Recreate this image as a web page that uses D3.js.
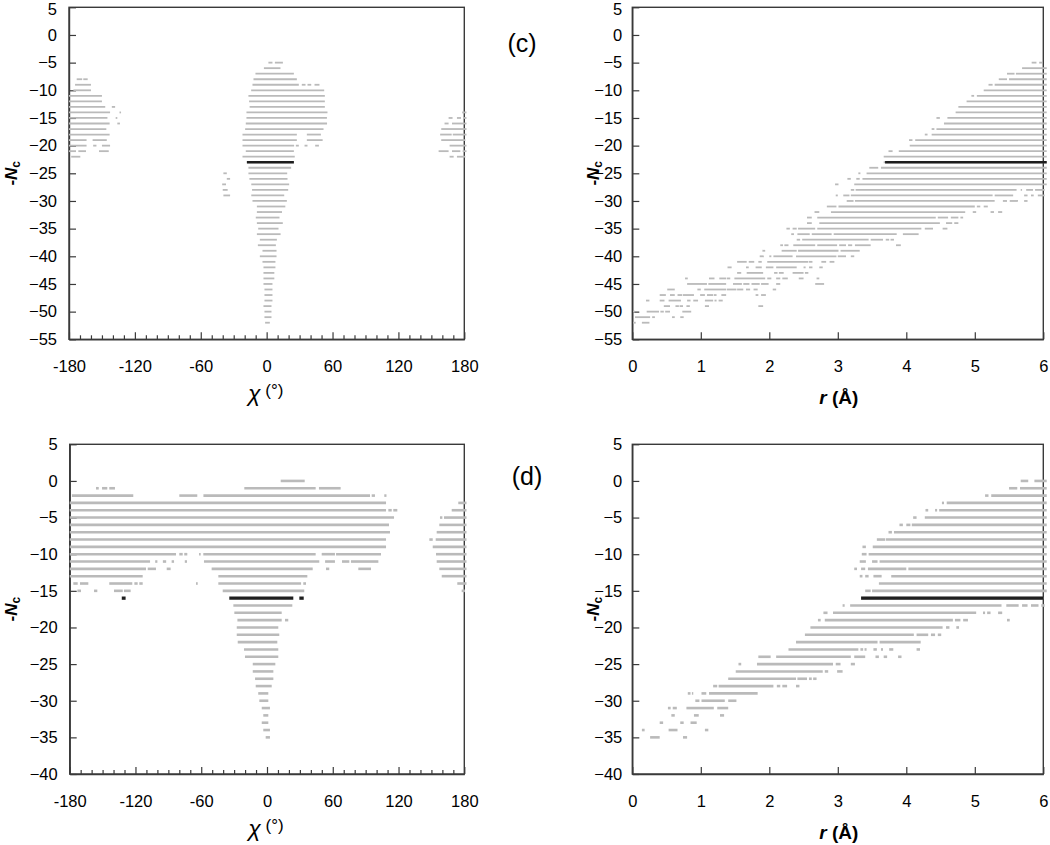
<!DOCTYPE html>
<html><head><meta charset="utf-8">
<script src="https://cdn.jsdelivr.net/npm/d3@7"></script>
<style>
body{margin:0;background:#fff}
svg{display:block}
text{font-family:Arial,"Liberation Sans",sans-serif}
</style>
</head><body>
<svg id="chart" width="1050" height="845"></svg>
<script>
// ---------- tick labels ----------
const chiTickLabels = [-180, -120, -60, 0, 60, 120, 180];
const rTickLabels = [0, 1, 2, 3, 4, 5, 6];
const cNcTicks = [5, 0, -5, -10, -15, -20, -25, -30, -35, -40, -45, -50, -55];
const dNcTicks = [5, 0, -5, -10, -15, -20, -25, -30, -35, -40];

// ---------- panel (c): -Nc vs chi, [level, [[from,to],...]] ----------
const cChiGray = [
  [-5, [[1.6,5.3],[7.5,14.8]]],
  [-6, [[-2.5,12.6]]],
  [-7, [[-10.2,24.8]]],
  [-8, [[-173,-168],[-167,-163],[-12,27.5]]],
  [-9, [[-174.5,-160],[-12.9,29.3],[32,35.4],[37.2,40.6],[43.6,48.1]]],
  [-10, [[-176,-160],[-14.1,52.4]]],
  [-11, [[-180,-150],[-16.6,53]]],
  [-12, [[-180,-150],[-16,53]]],
  [-13, [[-180,-147],[-141,-138],[-15.5,53]]],
  [-14, [[-180,-142.6],[-134,-132.6],[-18.4,55.4],[178,182]]],
  [-15, [[-180,-145],[-137.5,-136],[-18.4,54.9],[165.7,169.3],[173.3,177],[179,182]]],
  [-16, [[-180,-143],[-136,-133.6],[-19,55],[162,165.7],[168.8,182]]],
  [-17, [[-180,-146],[-19.6,51.8],[159,182]]],
  [-18, [[-180,-143],[-22,27.5],[36.6,49.4],[158,168.5],[169.5,182]]],
  [-19, [[-180,-164],[-158.5,-145.6],[-22,27.5],[36.6,51],[159,181]]],
  [-20, [[-180,-164],[-158,-155],[-150,-142.6],[-22,25],[26.6,29.3],[34.5,37.2],[44.2,47.6],[166.6,182]]],
  [-21, [[-180,-173.6],[-171.5,-164.5],[-152.7,-143.8],[-19,24.8],[156.6,165.7],[168.8,176.4],[178.5,182]]],
  [-22, [[-178,-169.7],[-22,25.6],[166.6,170.3],[173.3,181]]],
  [-23, [[-18,24.8]]],
  [-24, [[-16.6,22.3]]],
  [-25, [[-39.4,-36.3],[-16.6,18.7]]],
  [-26, [[-36.3,-33.3],[-15.7,19]]],
  [-27, [[-40.5,-37],[-14,20.5]]],
  [-28, [[-40,-35.5],[-13.3,19.6]]],
  [-29, [[-39.4,-33.3],[-14,16]]],
  [-30, [[-12.9,18.4]]],
  [-31, [[-8.9,17]]],
  [-32, [[-8.9,14]]],
  [-33, [[-9.9,11.7]]],
  [-34, [[-8.9,14.7]]],
  [-35, [[-7.7,10.8]]],
  [-36, [[-8.9,12.7]]],
  [-37, [[-6.2,9.3]]],
  [-38, [[-8,8.4]]],
  [-39, [[-3.8,9]]],
  [-40, [[-6.2,9]]],
  [-41, [[-3.8,8]]],
  [-42, [[-2.9,8]]],
  [-43, [[-2.9,7]]],
  [-44, [[-2.9,7]]],
  [-45, [[-2.9,5.3]]],
  [-46, [[-2,5.3]]],
  [-47, [[-2,5.3]]],
  [-48, [[-2,5.3]]],
  [-49, [[-2.9,4.4]]],
  [-50, [[-2,4.4]]],
  [-51, [[-2,4.4]]],
  [-52, [[-1.4,2.9]]]
];
const cChiBlack = [[-23, [[-18,24.8]]]];

// ---------- panel (c): -Nc vs r ----------
const cRGray = [
  [-5, [[5.83,5.90],[5.94,5.98]]],
  [-6, [[5.69,6.05]]],
  [-7, [[5.47,5.58],[5.60,6.05]]],
  [-8, [[5.35,5.47],[5.50,6.05]]],
  [-9, [[5.20,5.26],[5.29,6.05]]],
  [-10, [[5.13,6.05]]],
  [-11, [[4.95,4.99],[5.03,6.05]]],
  [-12, [[4.88,6.05]]],
  [-13, [[4.76,6.05]]],
  [-14, [[4.72,6.05]]],
  [-15, [[4.44,4.49],[4.60,6.05]]],
  [-16, [[4.55,6.05]]],
  [-17, [[4.37,4.41],[4.44,6.05]]],
  [-18, [[4.27,4.31],[4.37,6.05]]],
  [-19, [[4.04,4.09],[4.13,6.05]]],
  [-20, [[4.05,6.05]]],
  [-21, [[3.74,3.80],[3.89,6.05]]],
  [-22, [[3.67,6.05]]],
  [-23, [[3.67,6.05]]],
  [-24, [[3.46,3.59],[3.63,6.05]]],
  [-25, [[3.30,3.33],[3.42,6.05]]],
  [-26, [[3.14,3.19],[3.27,3.32],[3.36,6.05]]],
  [-27, [[2.96,3.01],[3.24,6.05]]],
  [-28, [[3.19,3.24],[3.26,5.61],[5.67,5.69],[5.75,5.85],[5.88,6.02]]],
  [-29, [[2.97,3.0],[3.08,3.17],[3.19,5.26],[5.29,5.56],[5.72,5.77],[5.82,5.86],[5.92,6.02]]],
  [-30, [[3.13,3.23],[3.25,5.29],[5.41,5.47],[5.51,5.63],[5.72,5.77]]],
  [-31, [[2.84,2.98],[3.01,5.00],[5.03,5.08],[5.13,5.19]]],
  [-32, [[2.66,2.73],[2.90,4.86],[4.97,5.02],[5.23,5.28],[5.34,5.40]]],
  [-33, [[2.55,2.62],[2.70,4.43],[4.46,4.61],[4.65,4.76],[4.79,4.83]]],
  [-34, [[2.55,2.62],[2.73,4.49],[4.58,4.67],[4.70,4.76]]],
  [-35, [[2.25,2.30],[2.34,2.40],[2.42,2.67],[2.70,4.22],[4.27,4.39],[4.53,4.60]]],
  [-36, [[2.32,2.36],[2.41,2.59],[2.62,2.91],[2.94,3.86],[3.95,4.18]]],
  [-37, [[2.40,2.45],[2.48,3.45],[3.48,3.66],[3.70,3.75],[3.77,3.82]]],
  [-38, [[2.16,2.20],[2.22,2.28],[2.35,2.67],[2.70,2.99],[3.02,3.12],[3.15,3.21],[3.25,3.48],[3.85,3.92]]],
  [-39, [[1.90,1.94],[2.18,2.40],[2.42,3.01],[3.04,3.32]]],
  [-40, [[1.86,1.92],[2.00,2.03],[2.06,2.34],[2.39,2.98],[3.00,3.12],[3.19,3.24]]],
  [-41, [[1.53,1.67],[1.70,1.78],[1.84,1.89],[1.97,2.57],[2.58,2.63],[2.76,2.83],[2.88,2.95]]],
  [-42, [[1.39,1.45],[1.66,1.70],[1.80,1.89],[1.95,2.06],[2.10,2.40],[2.50,2.53],[2.58,2.63],[2.73,2.78]]],
  [-43, [[1.53,1.59],[1.67,1.91],[2.07,2.12],[2.14,2.21],[2.34,2.50],[2.52,2.57]]],
  [-44, [[0.77,0.81],[1.12,1.20],[1.27,1.37],[1.38,1.43],[1.49,1.94],[1.97,2.03],[2.10,2.16],[2.19,2.27],[2.43,2.50],[2.69,2.73]]],
  [-45, [[0.80,1.09],[1.11,1.37],[1.47,1.60],[1.62,1.71],[1.74,1.86],[1.88,1.99],[2.10,2.16],[2.67,2.80]]],
  [-46, [[0.51,0.62],[0.95,1.0],[1.05,1.37],[1.38,1.52],[1.53,1.62],[1.66,1.72],[1.77,1.83],[2.05,2.10]]],
  [-47, [[0.40,0.49],[0.55,0.62],[0.66,0.73],[0.74,0.90],[0.99,1.06],[1.09,1.18],[1.19,1.23],[1.30,1.37],[1.80,1.84],[1.88,1.95]]],
  [-48, [[0.20,0.25],[0.40,0.47],[0.53,0.71],[0.80,0.85],[0.89,0.96],[1.06,1.18],[1.20,1.23],[1.26,1.32]]],
  [-49, [[0.46,0.55],[0.63,0.68],[0.69,0.74],[0.79,0.84],[1.06,1.12],[1.84,1.91]]],
  [-50, [[0.01,0.04],[0.21,0.39],[0.41,0.46],[0.48,0.55],[0.73,0.86]]],
  [-51, [[0.04,0.26],[0.29,0.33],[0.58,0.62],[0.70,0.75]]],
  [-52, [[0.01,0.05],[0.14,0.25]]]
];
const cRBlack = [[-23, [[3.69,6.05]]]];

// ---------- panel (d): -Nc vs chi ----------
const dChiGray = [
  [0, [[12.5,34.4]]],
  [-1, [[-156,-153.5],[-150.5,-145.7],[-143.9,-138.7],[-20.7,44.4],[47.4,67.2]]],
  [-2, [[-178,-122],[-80,-63.6],[-58,94],[95.5,98.5],[107,109]]],
  [-3, [[-180,108.6],[174.5,182]]],
  [-4, [[-180,108.6],[110.7,113.8],[115.2,118.9],[168.5,182]]],
  [-5, [[-180,115.9],[157.8,160],[161.5,182]]],
  [-6, [[-180,111.3],[157.2,182]]],
  [-7, [[-180,112.2],[154.8,182]]],
  [-8, [[-180,108.6],[148.1,151.2],[153.9,182]]],
  [-9, [[-180,108.6],[151.2,182]]],
  [-10, [[-180,-83],[-80,-76.9],[-75.5,-72.7],[-62,-60.5],[-58.1,44.4],[49.9,62],[63,104],[154.2,182]]],
  [-11, [[-180,-106.7],[-102,-100],[-95,-92],[-87,-84.8],[-75,-73],[-57.5,47.7],[53,62],[68.4,75.1],[76.6,101.6],[154.8,182]]],
  [-12, [[-180,-110.4],[-108.8,-101.3],[-91.5,-87.9],[-50.5,41.7],[53.8,56.8],[83.3,94.9],[157.2,182]]],
  [-13, [[-180,-113.4],[-44.4,36.8],[159.4,182]]],
  [-14, [[-176.7,-172.7],[-170.6,-163],[-143.9,-122.9],[-121,-118],[-116.5,-113.4],[-64.8,-63.2],[-44.4,31.1],[33.1,35.6],[173.6,182]]],
  [-15, [[-173,-169.7],[-157.8,-154.8],[-139.6,-131.6],[-130.5,-124.4],[-40.4,34],[177.6,180.6]]],
  [-17, [[-30.7,23.1]]],
  [-18, [[-29.8,13.4]]],
  [-19, [[-27,13.4],[16.4,19.4]]],
  [-20, [[-27.6,10.3]]],
  [-21, [[-27.6,11.2]]],
  [-22, [[-26.7,9.4]]],
  [-23, [[-21,10.3]]],
  [-24, [[-20.1,10.3]]],
  [-25, [[-13,7.6]]],
  [-26, [[-13,5.8]]],
  [-27, [[-10.9,5.8]]],
  [-28, [[-10.3,4.3]]],
  [-29, [[-8,1.2]]],
  [-30, [[-7,1.2]]],
  [-31, [[-4.8,2.7]]],
  [-32, [[-3.4,1.2]]],
  [-33, [[-4.8,1.2]]],
  [-34, [[-3.4,2.7]]],
  [-35, [[-1.2,2.7]]]
];
const dChiBlack = [[-16, [[-132.5,-129],[-34.4,24],[29.5,33.5]]]];

// ---------- panel (d): -Nc vs r ----------
const dRGray = [
  [0, [[5.67,5.78],[5.87,6.05]]],
  [-1, [[5.50,5.62],[5.66,6.05]]],
  [-2, [[5.15,5.20],[5.24,6.05]]],
  [-3, [[4.52,4.55],[4.59,6.05]]],
  [-4, [[4.28,4.32],[4.42,4.45],[4.48,6.05]]],
  [-5, [[4.10,4.15],[4.27,6.05]]],
  [-6, [[3.90,3.95],[4.0,4.06],[4.08,6.05]]],
  [-7, [[3.74,3.79],[3.82,6.05]]],
  [-8, [[3.57,3.69],[3.70,6.05]]],
  [-9, [[3.36,3.41],[3.51,6.05]]],
  [-10, [[3.35,3.42],[3.45,6.05]]],
  [-11, [[3.32,3.41],[3.50,3.58],[3.61,6.05]]],
  [-12, [[3.24,3.28],[3.34,3.40],[3.44,4.0],[4.03,6.05]]],
  [-13, [[3.32,3.36],[3.40,3.45],[3.52,3.64],[3.78,6.05]]],
  [-14, [[3.60,6.05]]],
  [-15, [[3.40,3.48],[3.50,6.05]]],
  [-16, [[3.34,6.0]]],
  [-17, [[3.07,3.10],[3.18,5.39],[5.46,5.64],[5.69,5.77],[5.82,5.93],[5.97,6.02]]],
  [-18, [[2.79,2.85],[2.93,5.02],[5.12,5.15],[5.18,5.23],[5.34,5.40]]],
  [-19, [[2.71,2.75],[2.81,4.68],[4.71,4.79],[4.83,4.90],[5.47,5.51]]],
  [-20, [[2.60,4.53],[4.58,4.63],[4.73,4.77]]],
  [-21, [[2.52,4.11],[4.15,4.32],[4.36,4.42],[4.46,4.51]]],
  [-22, [[2.39,3.58],[3.61,4.21]]],
  [-23, [[2.28,3.30],[3.33,3.37],[3.39,3.42],[3.52,3.57],[3.63,3.66],[3.75,3.81],[4.15,4.20]]],
  [-24, [[1.84,2.02],[2.10,3.19],[3.24,3.40],[3.55,3.60],[3.67,3.72],[3.88,3.93]]],
  [-25, [[1.55,1.59],[1.82,2.93],[2.97,3.04],[3.19,3.25]]],
  [-26, [[1.51,2.78],[2.81,2.86],[2.99,3.07]]],
  [-27, [[1.40,2.39],[2.41,2.55],[2.58,2.62],[2.64,2.69]]],
  [-28, [[1.18,1.24],[1.26,2.06],[2.11,2.16],[2.19,2.26],[2.39,2.44]]],
  [-29, [[0.81,0.85],[0.87,0.89],[1.01,1.08],[1.12,1.83]]],
  [-30, [[0.92,0.98],[1.01,1.35],[1.40,1.52]]],
  [-31, [[0.52,0.56],[0.59,0.65],[0.79,1.19],[1.24,1.40]]],
  [-32, [[0.57,0.62],[0.90,0.97],[1.28,1.34]]],
  [-33, [[0.40,0.45],[0.70,0.75],[0.85,0.94]]],
  [-34, [[0.14,0.18],[0.53,0.66],[1.06,1.11]]],
  [-35, [[0.26,0.40],[0.74,0.80]]]
];
const dRBlack = [[-16, [[3.34,6.0]]]];

// ---------- drawing ----------
const svg = d3.select("#chart");
const GRAY = "#bababa", BLACK = "#1e1e1e", AXIS = "#3a3a3a";
const SANS = "Arial, 'Liberation Sans', sans-serif";
const SERIF = "'Liberation Serif','Times New Roman',serif";

const toSegs = rows => rows.flatMap(([level, pairs]) => pairs.map(([a, b]) => ({level, a, b})));

const panels = [
  {kind: "chi", left: 69, right: 464.3, top: 7.3, bottom: 339.3, yDomain: [-55, 5], yTicks: cNcTicks,
   gray: cChiGray, black: cChiBlack, lw: 1.8, blw: 2.6, ylabX: 17, yPad: 12},
  {kind: "r", left: 632.3, right: 1043.3, top: 7.3, bottom: 339.3, yDomain: [-55, 5], yTicks: cNcTicks,
   gray: cRGray, black: cRBlack, lw: 1.8, blw: 2.6, ylabX: 599, yPad: 10},
  {kind: "chi", left: 69.7, right: 464.3, top: 444.3, bottom: 774, yDomain: [-40, 5], yTicks: dNcTicks,
   gray: dChiGray, black: dChiBlack, lw: 2.6, blw: 3.3, ylabX: 17, yPad: 12},
  {kind: "r", left: 632.3, right: 1043.3, top: 444.3, bottom: 774, yDomain: [-40, 5], yTicks: dNcTicks,
   gray: dRGray, black: dRBlack, lw: 2.6, blw: 3.3, ylabX: 599, yPad: 10}
];

panels.forEach(p => {
  const xDomain = p.kind === "chi" ? [-180, 180] : [0, 6];
  const x = d3.scaleLinear().domain(xDomain).range([p.left, p.right]);
  const y = d3.scaleLinear().domain(p.yDomain).range([p.bottom, p.top]);
  const g = svg.append("g");

  // frame
  g.append("rect").attr("x", p.left).attr("y", p.top)
    .attr("width", p.right - p.left).attr("height", p.bottom - p.top)
    .attr("fill", "none").attr("stroke", AXIS).attr("stroke-width", 1.4);

  // y axis
  const ya = d3.axisLeft(y).tickValues(p.yTicks).tickSizeInner(-7).tickSizeOuter(0).tickPadding(p.yPad);
  const yg = g.append("g").attr("transform", `translate(${p.left},0)`).call(ya);
  yg.select(".domain").attr("stroke", AXIS).attr("stroke-width", 1.4);
  yg.selectAll(".tick line").attr("stroke", AXIS).attr("stroke-width", 1.2);
  yg.selectAll(".tick text").attr("font-size", 16.5).attr("fill", "#000").attr("font-family", SANS)
    .attr("dy", d => (p.top < 20 && d === p.yDomain[1]) ? "0.42em" : "0.32em");

  // x axis
  let xa;
  if (p.kind === "chi") {
    xa = d3.axisBottom(x).tickValues(d3.range(-180, 181, 10))
      .tickFormat(d => chiTickLabels.includes(d) ? d : "");
  } else {
    xa = d3.axisBottom(x).tickValues(rTickLabels).tickFormat(d3.format("d"));
  }
  xa.tickSizeInner(-7).tickSizeOuter(0).tickPadding(21);
  const xg = g.append("g").attr("transform", `translate(0,${p.bottom})`).call(xa);
  xg.select(".domain").attr("stroke", AXIS).attr("stroke-width", 1.4);
  xg.selectAll(".tick line").attr("stroke", AXIS).attr("stroke-width", 1.2)
    .attr("y2", d => (p.kind === "chi" && !chiTickLabels.includes(d)) ? -4 : -7);
  xg.selectAll(".tick text").attr("font-size", 16.5).attr("fill", "#000").attr("font-family", SANS);

  // segments
  g.append("g").selectAll("line").data(toSegs(p.gray)).join("line")
    .attr("x1", d => x(d.a)).attr("x2", d => x(d.b))
    .attr("y1", d => y(d.level)).attr("y2", d => y(d.level))
    .attr("stroke", GRAY).attr("stroke-width", p.lw);
  g.append("g").selectAll("line").data(toSegs(p.black)).join("line")
    .attr("x1", d => x(d.a)).attr("x2", d => x(d.b))
    .attr("y1", d => y(d.level)).attr("y2", d => y(d.level))
    .attr("stroke", BLACK).attr("stroke-width", p.blw);

  // y axis title  -Nc
  const cy = (p.top + p.bottom) / 2;
  const yt = g.append("text")
    .attr("transform", `translate(${p.ylabX},${cy}) rotate(-90)`)
    .attr("text-anchor", "middle").attr("font-weight", "bold").attr("font-size", 17);
  yt.append("tspan").text("-");
  yt.append("tspan").attr("font-style", "italic").text("N");
  yt.append("tspan").attr("font-size", 12).attr("dy", 3).text("c");

  // x axis title
  const cx = (p.left + p.right) / 2;
  if (p.kind === "chi") {
    const t = g.append("text").attr("x", cx - 1).attr("y", p.bottom + 62)
      .attr("text-anchor", "middle").attr("font-family", SERIF);
    t.append("tspan").attr("font-style", "italic").attr("font-size", 23).text("χ");
    t.append("tspan").attr("font-size", 17).attr("dy", -5).text(" (°)");
  } else {
    const t = g.append("text").attr("x", cx + 1).attr("y", p.bottom + 65)
      .attr("text-anchor", "middle").attr("font-weight", "bold").attr("font-size", 19);
    t.append("tspan").attr("font-style", "italic").text("r");
    t.append("tspan").text(" (Å)");
  }
});

// panel letters
svg.append("text").attr("x", 522).attr("y", 52).attr("text-anchor", "middle")
  .attr("font-family", SERIF).attr("font-size", 25).text("(c)");
svg.append("text").attr("x", 527).attr("y", 485).attr("text-anchor", "middle")
  .attr("font-family", SERIF).attr("font-size", 25).text("(d)");
</script>
</body></html>
